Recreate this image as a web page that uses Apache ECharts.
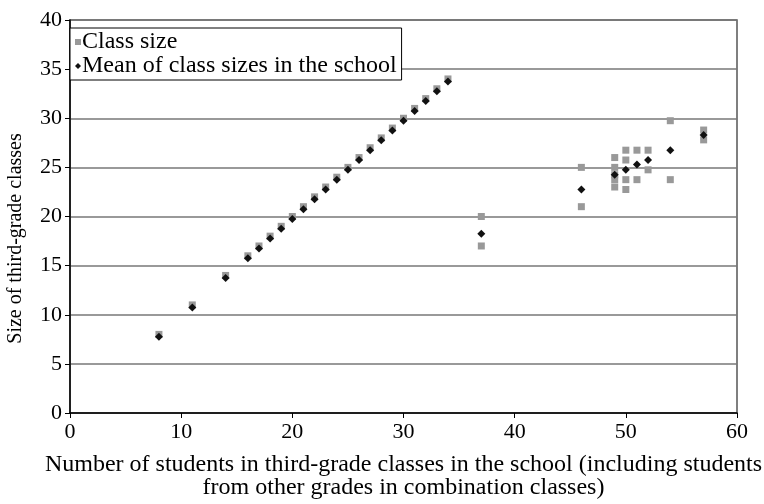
<!DOCTYPE html>
<html>
<head>
<meta charset="utf-8">
<script src="https://cdn.jsdelivr.net/npm/echarts@6/dist/echarts.min.js"></script>
<style>
    html, body { margin: 0; padding: 0; background: #fff; }
    #chart { width: 764px; height: 504px; }
</style>
</head>
<body>
<div id="chart"></div>
<script>
// 数据：每个学校三年级学生数，对应班级规模
var classSizeX = [8, 11, 14, 16, 17, 18, 19, 20, 21, 22, 23, 24, 25, 26, 27, 28, 29, 30, 31, 32, 33, 34,
    37, 37, 46, 46, 49, 49, 49, 49, 49, 50, 50, 50, 50, 51, 51, 52, 52, 54, 54, 57, 57];
var classSizeY = [8, 11, 14, 16, 17, 18, 19, 20, 21, 22, 23, 24, 25, 26, 27, 28, 29, 30, 31, 32, 33, 34,
    20, 17, 25, 21, 26, 25, 24.25, 23.75, 23, 26.75, 25.75, 23.75, 22.75, 26.75, 23.75, 26.75, 24.75, 29.75, 23.75, 28.8, 27.8];

// 每个学校的平均班级规模
var meanX = [8, 11, 14, 16, 17, 18, 19, 20, 21, 22, 23, 24, 25, 26, 27, 28, 29, 30, 31, 32, 33, 34,
    37, 46, 49, 50, 51, 52, 54, 57];
var meanY = [7.75, 10.75, 13.75, 15.75, 16.75, 17.75, 18.75, 19.75, 20.75, 21.75, 22.75, 23.75, 24.75, 25.75,
    26.75, 27.75, 28.75, 29.75, 30.75, 31.75, 32.75, 33.75, 18.25, 22.75, 24.25, 24.75, 25.3, 25.75, 26.75, 28.3];

var xTicks = [0, 10, 20, 30, 40, 50, 60];
var yTicks = [0, 5, 10, 15, 20, 25, 30, 35, 40];

function pairs(xs, ys) {
    var out = [];
    for (var i = 0; i < xs.length; i++) {
        out.push([xs[i], ys[i]]);
    }
    return out;
}

var font = '"Liberation Serif", "DejaVu Serif", serif';
var diamond = 'path://M0,-1 L1,0 L0,1 L-1,0 Z';

var chart = echarts.init(document.getElementById('chart'));
chart.setOption({
    animation: false,
    backgroundColor: '#fff',
    grid: {
        left: 70, right: 27, top: 20, bottom: 91,
        containLabel: false,
        outerBoundsMode: 'none',
        show: true, borderColor: '#555', borderWidth: 1.5
    },
    legend: {
        orient: 'vertical',
        left: 70, top: 28,
        padding: [2, 5, 2, 5],
        itemGap: 0,
        itemWidth: 6, itemHeight: 6,
        borderColor: '#000', borderWidth: 1,
        backgroundColor: '#fff',
        textStyle: { fontFamily: font, fontSize: 24, color: '#000', padding: [0, 0, 0, -4] },
        data: [
            { name: 'Class size', icon: 'rect', itemStyle: { color: '#999' } },
            { name: 'Mean of class sizes in the school', icon: diamond, itemStyle: { color: '#111' } }
        ]
    },
    xAxis: {
        type: 'value',
        min: xTicks[0], max: xTicks[xTicks.length - 1], interval: 10,
        name: 'Number of students in third-grade classes in the school (including students\nfrom other grades in combination classes)',
        nameLocation: 'middle', nameGap: 40,
        nameTextStyle: { fontFamily: font, fontSize: 24, color: '#000', lineHeight: 23 },
        axisLine: { lineStyle: { color: '#000', width: 1.5 } },
        axisTick: { show: true, length: 5, lineStyle: { color: '#000' } },
        axisLabel: { fontFamily: font, fontSize: 22, color: '#000', margin: 8 },
        splitLine: { show: false }
    },
    yAxis: {
        type: 'value',
        min: yTicks[0], max: yTicks[yTicks.length - 1], interval: 5,
        name: 'Size of third-grade classes',
        nameLocation: 'middle', nameGap: 44,
        nameTextStyle: { fontFamily: font, fontSize: 20, color: '#000', padding: [0, 44, 0, 0] },
        axisLine: { show: true, lineStyle: { color: '#000', width: 1.5 } },
        axisTick: { show: true, length: 5, lineStyle: { color: '#000' } },
        axisLabel: { fontFamily: font, fontSize: 22, color: '#000', margin: 8 },
        splitLine: { show: true, lineStyle: { color: '#777', width: 1.5 } }
    },
    series: [
        {
            name: 'Class size',
            type: 'scatter',
            symbol: 'rect',
            symbolSize: 7,
            itemStyle: { color: '#999', opacity: 1 },
            data: pairs(classSizeX, classSizeY)
        },
        {
            name: 'Mean of class sizes in the school',
            type: 'scatter',
            symbol: diamond,
            symbolSize: 8,
            itemStyle: { color: '#111', opacity: 1 },
            data: pairs(meanX, meanY)
        }
    ]
});
</script>
</body>
</html>
